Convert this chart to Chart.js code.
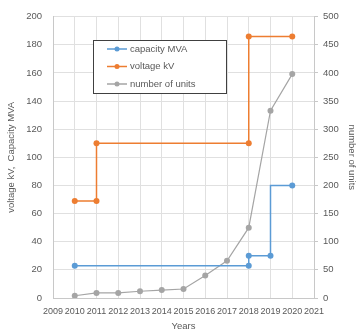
<!DOCTYPE html>
<html>
<head>
<meta charset="utf-8">
<script src="https://cdn.jsdelivr.net/npm/chart.js"></script>
<style>
  body { margin: 0; background: #fff; }
  #wrap { width: 357px; height: 329px; }
</style>
</head>
<body>
<div id="wrap"><canvas id="chart" width="357" height="329"></canvas></div>
<script>
// Data
const years = [2010, 2011, 2012, 2013, 2014, 2015, 2016, 2017, 2018, 2019, 2020];
const units = [4, 9, 9, 12, 14, 16, 40, 66, 125, 333, 398];

const capacityYears = [2010, 2018, 2018, 2019, 2019, 2020];
const capacityMVA = [23, 23, 30, 30, 80, 80];
const capacityDots = [3, 3, 3, 3, 0, 3];

const voltageYears = [2010, 2011, 2011, 2018, 2018, 2020];
const voltageKV = [69, 69, 110, 110, 186, 186];

const leftTicks = [0, 20, 40, 60, 80, 100, 120, 140, 160, 180, 200];
const rightTicks = [0, 50, 100, 150, 200, 250, 300, 350, 400, 450, 500];

const BLUE = '#5B9BD5';
const ORANGE = '#ED7D31';
const GRAY = '#A5A5A5';
const TEXT = '#595959';
const FONT = "'Liberation Sans Narrow', 'Liberation Sans', sans-serif";

function pairs(xs, ys) {
    return xs.map((x, i) => ({ x: x, y: ys[i] }));
}

// Legend drawn as a box inside the plot
const boxLegend = {
    id: 'boxLegend',
    afterDraw(chart) {
        const ctx = chart.ctx;
        const x0 = 93, y0 = 40, w = 133, h = 53;
        ctx.save();
        ctx.fillStyle = '#fff';
        ctx.fillRect(x0, y0, w, h);
        ctx.strokeStyle = '#404040';
        ctx.lineWidth = 1;
        ctx.strokeRect(x0 + 0.5, y0 + 0.5, w, h);
        ctx.font = '9.5px ' + FONT;
        ctx.textBaseline = 'middle';
        chart.data.datasets.forEach((ds, i) => {
            const y = y0 + 9 + i * 17.5;
            ctx.strokeStyle = ds.borderColor;
            ctx.lineWidth = 1.5;
            ctx.beginPath();
            ctx.moveTo(x0 + 14, y);
            ctx.lineTo(x0 + 34, y);
            ctx.stroke();
            ctx.fillStyle = ds.borderColor;
            ctx.beginPath();
            ctx.arc(x0 + 24, y, 2.5, 0, Math.PI * 2);
            ctx.fill();
            ctx.fillStyle = TEXT;
            ctx.fillText(ds.label, x0 + 37, y);
        });
        ctx.restore();
    }
};

new Chart(document.getElementById('chart'), {
    type: 'line',
    data: {
        datasets: [
            {
                label: 'capacity MVA',
                data: pairs(capacityYears, capacityMVA),
                borderColor: BLUE,
                backgroundColor: BLUE,
                borderWidth: 1.5,
                pointRadius: capacityDots,
                pointBorderWidth: 0,
                yAxisID: 'y'
            },
            {
                label: 'voltage kV',
                data: pairs(voltageYears, voltageKV),
                borderColor: ORANGE,
                backgroundColor: ORANGE,
                borderWidth: 1.5,
                pointRadius: 3,
                pointBorderWidth: 0,
                yAxisID: 'y'
            },
            {
                label: 'number of units',
                data: pairs(years, units),
                borderColor: GRAY,
                backgroundColor: GRAY,
                borderWidth: 1.2,
                pointRadius: 3,
                pointBorderWidth: 0,
                yAxisID: 'y2'
            }
        ]
    },
    options: {
        responsive: false,
        animation: false,
        layout: { padding: { top: 12, left: 0, right: 0, bottom: 0 } },
        plugins: {
            legend: { display: false },
            tooltip: { enabled: false }
        },
        scales: {
            x: {
                type: 'linear',
                min: 2009,
                max: 2021,
                afterBuildTicks: s => { s.ticks = [2009, ...years, 2021].map(v => ({ value: v })); },
                afterFit: s => { s.height = 31; },
                grid: { color: '#e0e0e0', drawTicks: false },
                border: { color: '#c8c8c8' },
                ticks: {
                    autoSkip: false,
                    maxRotation: 0,
                    padding: 8,
                    color: TEXT,
                    font: { family: FONT, size: 9 },
                    callback: v => String(v)
                },
                title: {
                    display: true,
                    text: 'Years',
                    color: TEXT,
                    font: { family: FONT, size: 9.5 },
                    padding: { top: 0, bottom: -3 }
                }
            },
            y: {
                position: 'left',
                min: 0,
                max: 200,
                afterBuildTicks: s => { s.ticks = leftTicks.map(v => ({ value: v })); },
                afterFit: s => { s.width = 53; },
                grid: { color: '#e0e0e0', drawTicks: false },
                border: { color: '#c8c8c8' },
                ticks: {
                    padding: 11,
                    color: TEXT,
                    font: { family: FONT, size: 9.5 }
                },
                title: {
                    display: true,
                    text: 'voltage kV,  Capacity MVA',
                    color: TEXT,
                    font: { family: FONT, size: 9.5 },
                    padding: { top: 6, bottom: 0 }
                }
            },
            y2: {
                position: 'right',
                min: 0,
                max: 500,
                afterBuildTicks: s => { s.ticks = rightTicks.map(v => ({ value: v })); },
                afterFit: s => { s.width = 43; },
                grid: { drawOnChartArea: false, color: '#c8c8c8', tickLength: 4 },
                border: { color: '#c8c8c8' },
                ticks: {
                    padding: 5,
                    color: TEXT,
                    font: { family: FONT, size: 9.5 }
                },
                title: {
                    display: true,
                    text: 'number of units',
                    color: TEXT,
                    font: { family: FONT, size: 9.5 },
                    padding: { top: 0, bottom: 0 }
                }
            }
        }
    },
    plugins: [boxLegend]
});
</script>
</body>
</html>
